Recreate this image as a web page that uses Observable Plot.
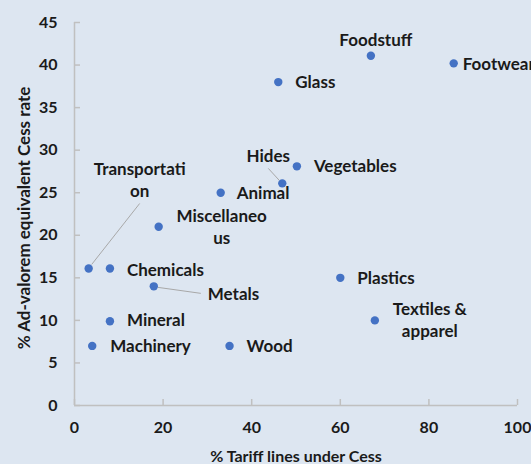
<!DOCTYPE html>
<html><head><meta charset="utf-8">
<script src="https://cdn.jsdelivr.net/npm/d3@7"></script>
<script src="https://cdn.jsdelivr.net/npm/@observablehq/plot@0.6"></script>
<style>
html,body{margin:0;padding:0;background:#dde6f1;overflow:hidden;}
</style></head><body><div id="chart"></div>
<script>
// ---- data ----
const categories = ["Transportation","Chemicals","Metals","Mineral","Machinery","Miscellaneous","Animal","Hides","Vegetables","Glass","Foodstuff","Footwear","Plastics","Textiles & apparel","Wood"];
const labelTexts = ["Transportati\non","Chemicals","Metals","Mineral","Machinery","Miscellaneo\nus","Animal","Hides","Vegetables","Glass","Foodstuff","Footwear","Plastics","Textiles &\napparel","Wood"];
const tariffLines = [3.2, 8, 17.9, 8, 4, 19, 33, 46.9, 50.2, 46, 66.9, 85.6, 60, 67.8, 35];
const cessRate   = [16.1, 16.1, 14, 9.9, 7, 21, 25, 26.1, 28.1, 38, 41.1, 40.2, 15, 10, 7];
const xTicks = [0, 20, 40, 60, 80, 100];
const yTicks = [0, 5, 10, 15, 20, 25, 30, 35, 40, 45];
const xTitle = "% Tariff lines under Cess";
const yTitle = "% Ad-valorem equivalent Cess rate";

// ---- layout (pixels) ----
const W = 531, H = 464;
const M = {top: 22, right: 14, bottom: 59, left: 74};
const labelLayout = {
  "Transportation": {dx: 51, dy: -88, anchor: "middle"},
  "Chemicals": {dx: 17, dy: 2, anchor: "start"},
  "Metals": {dx: 54, dy: 9, anchor: "start"},
  "Mineral": {dx: 17, dy: 0, anchor: "start"},
  "Machinery": {dx: 18, dy: 1, anchor: "start"},
  "Miscellaneous": {dx: 63, dy: 1.5, anchor: "middle"},
  "Animal": {dx: 16, dy: 1, anchor: "start"},
  "Hides": {dx: -14, dy: -26, anchor: "middle"},
  "Vegetables": {dx: 17, dy: 1, anchor: "start"},
  "Glass": {dx: 17, dy: 1, anchor: "start"},
  "Foodstuff": {dx: 5, dy: -15, anchor: "middle"},
  "Footwear": {dx: 9, dy: 2, anchor: "start"},
  "Plastics": {dx: 17, dy: 1, anchor: "start"},
  "Textiles & apparel": {dx: 55, dy: 1, anchor: "middle"},
  "Wood": {dx: 17, dy: 1, anchor: "start"}
};
const labelShift = -2;
const leaderLayout = {
  "Transportation": [[3, -4], [51, -65]],
  "Hides": [[-3, -3], [-14, -15]],
  "Metals": [[4, 1], [47, 7]]
};
const FONT = "Lato, 'Open Sans', sans-serif";
const FS = 17;

const data = categories.map((c, i) => ({name: c, label: labelTexts[i], x: tariffLines[i], y: cessRate[i]}));
const xDom = [0, 100], yDom = [0, 45];
const kx = (W - M.left - M.right) / (xDom[1] - xDom[0]);
const ky = (H - M.top - M.bottom) / (yDom[1] - yDom[0]);
const px = (d, dx) => d.x + dx / kx;
const py = (d, dy) => d.y - dy / ky;
const tick = 6;

const textCommon = {fontFamily: FONT, fontSize: FS, fontWeight: "bold", fill: "#1a1a1a", lineHeight: 22 / FS};

const chart = Plot.plot({
  width: W, height: H,
  marginTop: M.top, marginRight: M.right, marginBottom: M.bottom, marginLeft: M.left,
  style: {background: "#dde6f1", fontFamily: FONT, fontSize: "16px", fontWeight: "bold", color: "#1a1a1a", overflow: "visible"},
  x: {domain: xDom, ticks: xTicks, tickSize: 0, tickPadding: 16, tickFormat: d => d, label: null},
  y: {domain: yDom, ticks: yTicks, tickSize: 0, tickPadding: 17, tickFormat: d => d, label: null},
  marks: [
    Plot.ruleY([0], {stroke: "#c0c0c0", strokeWidth: 1.5}),
    Plot.ruleX([0], {stroke: "#c0c0c0", strokeWidth: 1.5}),
    Plot.ruleX(xTicks, {x: d => d, y1: 0, y2: tick / ky, stroke: "#c0c0c0", strokeWidth: 1.5}),
    Plot.ruleY(yTicks, {y: d => d, x1: 0, x2: tick / kx, stroke: "#c0c0c0", strokeWidth: 1.5}),
    Plot.link(data.filter(d => leaderLayout[d.name]), {
      x1: d => px(d, leaderLayout[d.name][0][0]), y1: d => py(d, leaderLayout[d.name][0][1]),
      x2: d => px(d, leaderLayout[d.name][1][0]), y2: d => py(d, leaderLayout[d.name][1][1]),
      stroke: "#a8a8a8", strokeWidth: 1
    }),
    Plot.dot(data, {x: "x", y: "y", r: 4.2, fill: "#4472c4", stroke: "none"}),
    Plot.text(data.filter(d => labelLayout[d.name].anchor === "start"), {
      x: d => px(d, labelLayout[d.name].dx), y: d => py(d, labelLayout[d.name].dy + labelShift),
      text: "label", textAnchor: "start", lineAnchor: "middle", ...textCommon
    }),
    Plot.text(data.filter(d => labelLayout[d.name].anchor === "middle"), {
      x: d => px(d, labelLayout[d.name].dx), y: d => py(d, labelLayout[d.name].dy + labelShift),
      text: "label", textAnchor: "middle", lineAnchor: "middle", ...textCommon
    }),
    Plot.text([xTitle], {frameAnchor: "bottom", dy: 50, text: d => d, textAnchor: "middle", lineAnchor: "middle", ...textCommon, fontSize: 16}),
    Plot.text([yTitle], {frameAnchor: "left", dx: -52, dy: 4, rotate: -90, text: d => d, textAnchor: "middle", lineAnchor: "middle", ...textCommon, fontSize: 17})
  ]
});
document.getElementById("chart").appendChild(chart);
</script></body></html>
